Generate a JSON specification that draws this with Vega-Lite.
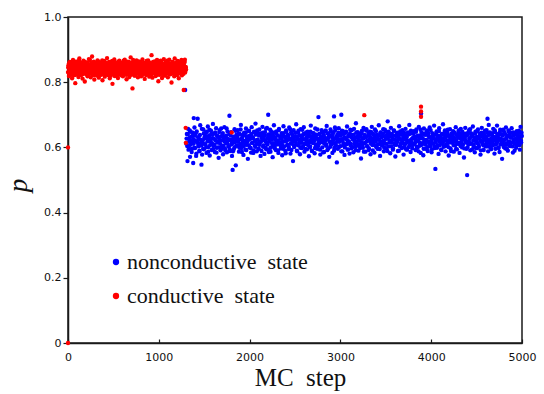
{
"$schema": "https://vega.github.io/schema/vega-lite/v6.json",
"width": 454, "height": 326,
"autosize": "none",
"padding": {"left": 68, "top": 17, "right": 22, "bottom": 51},
"background": "white",
"config": {"font": "Times New Roman", "view": {"stroke": "#1a1a1a", "strokeWidth": 1.5}, "axis": {"labelFont": "DejaVu Sans"}},
"data": {"values": [
{"t":1302,"p":0.612,"s":"n"},{"t":1309,"p":0.641,"s":"n"},{"t":1316,"p":0.558,"s":"n"},{"t":1323,"p":0.657,"s":"n"},{"t":1330,"p":0.603,"s":"n"},{"t":1337,"p":0.629,"s":"n"},{"t":1344,"p":0.571,"s":"n"},{"t":1351,"p":0.648,"s":"n"},{"t":1358,"p":0.619,"s":"n"},{"t":1365,"p":0.596,"s":"n"},
{"t":1372,"p":0.635,"s":"n"},{"t":1379,"p":0.552,"s":"n"},{"t":1386,"p":0.624,"s":"n"},{"t":1393,"p":0.661,"s":"n"},{"t":1400,"p":0.598,"s":"n"},{"t":1407,"p":0.643,"s":"n"},{"t":1414,"p":0.581,"s":"n"},{"t":1421,"p":0.617,"s":"n"},{"t":1428,"p":0.688,"s":"n"},{"t":1435,"p":0.607,"s":"n"},
{"t":1442,"p":0.626,"s":"n"},{"t":1449,"p":0.589,"s":"n"},{"t":1456,"p":0.668,"s":"n"},{"t":1463,"p":0.614,"s":"n"},{"t":1470,"p":0.547,"s":"n"},{"t":1477,"p":0.578,"s":"n"},{"t":1484,"p":0.621,"s":"n"},{"t":1491,"p":0.655,"s":"n"},{"t":1498,"p":0.594,"s":"n"},{"t":1505,"p":0.632,"s":"n"},
{"t":1512,"p":0.609,"s":"n"},{"t":1519,"p":0.646,"s":"n"},{"t":1526,"p":0.583,"s":"n"},{"t":1533,"p":0.627,"s":"n"},{"t":1540,"p":0.664,"s":"n"},{"t":1547,"p":0.601,"s":"n"},{"t":1554,"p":0.637,"s":"n"},{"t":1561,"p":0.575,"s":"n"},{"t":1568,"p":0.618,"s":"n"},{"t":1575,"p":0.651,"s":"n"},
{"t":1582,"p":0.592,"s":"n"},{"t":1589,"p":0.628,"s":"n"},{"t":1596,"p":0.672,"s":"n"},{"t":1603,"p":0.606,"s":"n"},{"t":1610,"p":0.643,"s":"n"},{"t":1617,"p":0.586,"s":"n"},{"t":1624,"p":0.623,"s":"n"},{"t":1631,"p":0.659,"s":"n"},{"t":1638,"p":0.599,"s":"n"},{"t":1645,"p":0.634,"s":"n"},
{"t":1652,"p":0.615,"s":"n"},{"t":1659,"p":0.568,"s":"n"},{"t":1666,"p":0.647,"s":"n"},{"t":1673,"p":0.621,"s":"n"},{"t":1680,"p":0.591,"s":"n"},{"t":1687,"p":0.658,"s":"n"},{"t":1694,"p":0.604,"s":"n"},{"t":1701,"p":0.638,"s":"n"},{"t":1708,"p":0.579,"s":"n"},{"t":1715,"p":0.625,"s":"n"},
{"t":1722,"p":0.662,"s":"n"},{"t":1729,"p":0.597,"s":"n"},{"t":1736,"p":0.631,"s":"n"},{"t":1743,"p":0.613,"s":"n"},{"t":1750,"p":0.585,"s":"n"},{"t":1757,"p":0.649,"s":"n"},{"t":1764,"p":0.622,"s":"n"},{"t":1771,"p":0.603,"s":"n"},{"t":1778,"p":0.697,"s":"n"},{"t":1785,"p":0.589,"s":"n"},
{"t":1792,"p":0.636,"s":"n"},{"t":1799,"p":0.611,"s":"n"},{"t":1806,"p":0.574,"s":"n"},{"t":1813,"p":0.531,"s":"n"},{"t":1820,"p":0.627,"s":"n"},{"t":1827,"p":0.595,"s":"n"},{"t":1834,"p":0.656,"s":"n"},{"t":1841,"p":0.618,"s":"n"},{"t":1848,"p":0.545,"s":"n"},{"t":1855,"p":0.639,"s":"n"},
{"t":1862,"p":0.605,"s":"n"},{"t":1869,"p":0.653,"s":"n"},{"t":1876,"p":0.624,"s":"n"},{"t":1883,"p":0.587,"s":"n"},{"t":1890,"p":0.641,"s":"n"},{"t":1897,"p":0.61,"s":"n"},{"t":1904,"p":0.669,"s":"n"},{"t":1911,"p":0.598,"s":"n"},{"t":1918,"p":0.63,"s":"n"},{"t":1925,"p":0.616,"s":"n"},
{"t":1932,"p":0.577,"s":"n"},{"t":1939,"p":0.645,"s":"n"},{"t":1946,"p":0.62,"s":"n"},{"t":1953,"p":0.593,"s":"n"},{"t":1960,"p":0.658,"s":"n"},{"t":1967,"p":0.608,"s":"n"},{"t":1974,"p":0.634,"s":"n"},{"t":1981,"p":0.565,"s":"n"},{"t":1988,"p":0.626,"s":"n"},{"t":1995,"p":0.651,"s":"n"},
{"t":2002,"p":0.6,"s":"n"},{"t":2009,"p":0.637,"s":"n"},{"t":2016,"p":0.584,"s":"n"},{"t":2023,"p":0.662,"s":"n"},{"t":2030,"p":0.614,"s":"n"},{"t":2037,"p":0.629,"s":"n"},{"t":2044,"p":0.591,"s":"n"},{"t":2051,"p":0.648,"s":"n"},{"t":2058,"p":0.606,"s":"n"},{"t":2065,"p":0.673,"s":"n"},
{"t":2072,"p":0.622,"s":"n"},{"t":2079,"p":0.588,"s":"n"},{"t":2086,"p":0.643,"s":"n"},{"t":2093,"p":0.611,"s":"n"},{"t":2100,"p":0.596,"s":"n"},{"t":2107,"p":0.655,"s":"n"},{"t":2114,"p":0.617,"s":"n"},{"t":2121,"p":0.574,"s":"n"},{"t":2128,"p":0.639,"s":"n"},{"t":2135,"p":0.628,"s":"n"},
{"t":2142,"p":0.663,"s":"n"},{"t":2149,"p":0.602,"s":"n"},{"t":2156,"p":0.632,"s":"n"},{"t":2163,"p":0.58,"s":"n"},{"t":2170,"p":0.647,"s":"n"},{"t":2177,"p":0.619,"s":"n"},{"t":2184,"p":0.594,"s":"n"},{"t":2191,"p":0.66,"s":"n"},{"t":2198,"p":0.609,"s":"n"},{"t":2205,"p":0.636,"s":"n"},
{"t":2212,"p":0.586,"s":"n"},{"t":2219,"p":0.625,"s":"n"},{"t":2226,"p":0.654,"s":"n"},{"t":2233,"p":0.599,"s":"n"},{"t":2240,"p":0.641,"s":"n"},{"t":2247,"p":0.613,"s":"n"},{"t":2254,"p":0.57,"s":"n"},{"t":2261,"p":0.631,"s":"n"},{"t":2268,"p":0.668,"s":"n"},{"t":2275,"p":0.604,"s":"n"},
{"t":2282,"p":0.623,"s":"n"},{"t":2289,"p":0.592,"s":"n"},{"t":2296,"p":0.649,"s":"n"},{"t":2303,"p":0.615,"s":"n"},{"t":2310,"p":0.637,"s":"n"},{"t":2317,"p":0.583,"s":"n"},{"t":2324,"p":0.657,"s":"n"},{"t":2331,"p":0.61,"s":"n"},{"t":2338,"p":0.627,"s":"n"},{"t":2345,"p":0.597,"s":"n"},
{"t":2352,"p":0.644,"s":"n"},{"t":2359,"p":0.576,"s":"n"},{"t":2366,"p":0.618,"s":"n"},{"t":2373,"p":0.665,"s":"n"},{"t":2380,"p":0.603,"s":"n"},{"t":2387,"p":0.633,"s":"n"},{"t":2394,"p":0.589,"s":"n"},{"t":2401,"p":0.652,"s":"n"},{"t":2408,"p":0.62,"s":"n"},{"t":2415,"p":0.608,"s":"n"},
{"t":2422,"p":0.638,"s":"n"},{"t":2429,"p":0.595,"s":"n"},{"t":2436,"p":0.661,"s":"n"},{"t":2443,"p":0.624,"s":"n"},{"t":2450,"p":0.581,"s":"n"},{"t":2457,"p":0.646,"s":"n"},{"t":2464,"p":0.612,"s":"n"},{"t":2471,"p":0.629,"s":"n"},{"t":2478,"p":0.558,"s":"n"},{"t":2485,"p":0.653,"s":"n"},
{"t":2492,"p":0.601,"s":"n"},{"t":2499,"p":0.634,"s":"n"},{"t":2506,"p":0.618,"s":"n"},{"t":2513,"p":0.671,"s":"n"},{"t":2520,"p":0.59,"s":"n"},{"t":2527,"p":0.627,"s":"n"},{"t":2534,"p":0.645,"s":"n"},{"t":2541,"p":0.606,"s":"n"},{"t":2548,"p":0.623,"s":"n"},{"t":2555,"p":0.579,"s":"n"},
{"t":2562,"p":0.656,"s":"n"},{"t":2569,"p":0.614,"s":"n"},{"t":2576,"p":0.598,"s":"n"},{"t":2583,"p":0.637,"s":"n"},{"t":2590,"p":0.625,"s":"n"},{"t":2597,"p":0.662,"s":"n"},{"t":2604,"p":0.587,"s":"n"},{"t":2611,"p":0.642,"s":"n"},{"t":2618,"p":0.611,"s":"n"},{"t":2625,"p":0.63,"s":"n"},
{"t":2632,"p":0.594,"s":"n"},{"t":2639,"p":0.648,"s":"n"},{"t":2646,"p":0.619,"s":"n"},{"t":2653,"p":0.573,"s":"n"},{"t":2660,"p":0.635,"s":"n"},{"t":2667,"p":0.603,"s":"n"},{"t":2674,"p":0.667,"s":"n"},{"t":2681,"p":0.621,"s":"n"},{"t":2688,"p":0.589,"s":"n"},{"t":2695,"p":0.644,"s":"n"},
{"t":2702,"p":0.616,"s":"n"},{"t":2709,"p":0.631,"s":"n"},{"t":2716,"p":0.582,"s":"n"},{"t":2723,"p":0.658,"s":"n"},{"t":2730,"p":0.607,"s":"n"},{"t":2737,"p":0.639,"s":"n"},{"t":2744,"p":0.596,"s":"n"},{"t":2751,"p":0.626,"s":"n"},{"t":2758,"p":0.693,"s":"n"},{"t":2765,"p":0.612,"s":"n"},
{"t":2772,"p":0.641,"s":"n"},{"t":2779,"p":0.578,"s":"n"},{"t":2786,"p":0.624,"s":"n"},{"t":2793,"p":0.653,"s":"n"},{"t":2800,"p":0.6,"s":"n"},{"t":2807,"p":0.633,"s":"n"},{"t":2814,"p":0.615,"s":"n"},{"t":2821,"p":0.586,"s":"n"},{"t":2828,"p":0.649,"s":"n"},{"t":2835,"p":0.62,"s":"n"},
{"t":2842,"p":0.605,"s":"n"},{"t":2849,"p":0.666,"s":"n"},{"t":2856,"p":0.592,"s":"n"},{"t":2863,"p":0.628,"s":"n"},{"t":2870,"p":0.643,"s":"n"},{"t":2877,"p":0.571,"s":"n"},{"t":2884,"p":0.617,"s":"n"},{"t":2891,"p":0.655,"s":"n"},{"t":2898,"p":0.609,"s":"n"},{"t":2905,"p":0.636,"s":"n"},
{"t":2912,"p":0.583,"s":"n"},{"t":2919,"p":0.622,"s":"n"},{"t":2926,"p":0.647,"s":"n"},{"t":2933,"p":0.598,"s":"n"},{"t":2940,"p":0.661,"s":"n"},{"t":2947,"p":0.613,"s":"n"},{"t":2954,"p":0.63,"s":"n"},{"t":2961,"p":0.554,"s":"n"},{"t":2968,"p":0.64,"s":"n"},{"t":2975,"p":0.625,"s":"n"},
{"t":2982,"p":0.659,"s":"n"},{"t":2989,"p":0.602,"s":"n"},{"t":2996,"p":0.619,"s":"n"},{"t":3003,"p":0.637,"s":"n"},{"t":3010,"p":0.588,"s":"n"},{"t":3017,"p":0.651,"s":"n"},{"t":3024,"p":0.623,"s":"n"},{"t":3031,"p":0.606,"s":"n"},{"t":3038,"p":0.642,"s":"n"},{"t":3045,"p":0.577,"s":"n"},
{"t":3052,"p":0.628,"s":"n"},{"t":3059,"p":0.645,"s":"n"},{"t":3066,"p":0.61,"s":"n"},{"t":3073,"p":0.664,"s":"n"},{"t":3080,"p":0.593,"s":"n"},{"t":3087,"p":0.634,"s":"n"},{"t":3094,"p":0.618,"s":"n"},{"t":3101,"p":0.581,"s":"n"},{"t":3108,"p":0.654,"s":"n"},{"t":3115,"p":0.611,"s":"n"},
{"t":3122,"p":0.597,"s":"n"},{"t":3129,"p":0.638,"s":"n"},{"t":3136,"p":0.626,"s":"n"},{"t":3143,"p":0.585,"s":"n"},{"t":3150,"p":0.657,"s":"n"},{"t":3157,"p":0.62,"s":"n"},{"t":3164,"p":0.603,"s":"n"},{"t":3171,"p":0.674,"s":"n"},{"t":3178,"p":0.614,"s":"n"},{"t":3185,"p":0.632,"s":"n"},
{"t":3192,"p":0.647,"s":"n"},{"t":3199,"p":0.59,"s":"n"},{"t":3206,"p":0.621,"s":"n"},{"t":3213,"p":0.608,"s":"n"},{"t":3220,"p":0.639,"s":"n"},{"t":3227,"p":0.566,"s":"n"},{"t":3234,"p":0.644,"s":"n"},{"t":3241,"p":0.627,"s":"n"},{"t":3248,"p":0.599,"s":"n"},{"t":3255,"p":0.66,"s":"n"},
{"t":3262,"p":0.613,"s":"n"},{"t":3269,"p":0.633,"s":"n"},{"t":3276,"p":0.587,"s":"n"},{"t":3283,"p":0.652,"s":"n"},{"t":3290,"p":0.618,"s":"n"},{"t":3297,"p":0.604,"s":"n"},{"t":3304,"p":0.636,"s":"n"},{"t":3311,"p":0.592,"s":"n"},{"t":3318,"p":0.625,"s":"n"},{"t":3325,"p":0.648,"s":"n"},
{"t":3332,"p":0.579,"s":"n"},{"t":3339,"p":0.629,"s":"n"},{"t":3346,"p":0.663,"s":"n"},{"t":3353,"p":0.607,"s":"n"},{"t":3360,"p":0.641,"s":"n"},{"t":3367,"p":0.616,"s":"n"},{"t":3374,"p":0.584,"s":"n"},{"t":3381,"p":0.655,"s":"n"},{"t":3388,"p":0.622,"s":"n"},{"t":3395,"p":0.601,"s":"n"},
{"t":3402,"p":0.639,"s":"n"},{"t":3409,"p":0.596,"s":"n"},{"t":3416,"p":0.624,"s":"n"},{"t":3423,"p":0.668,"s":"n"},{"t":3430,"p":0.61,"s":"n"},{"t":3437,"p":0.574,"s":"n"},{"t":3444,"p":0.646,"s":"n"},{"t":3451,"p":0.631,"s":"n"},{"t":3458,"p":0.606,"s":"n"},{"t":3465,"p":0.619,"s":"n"},
{"t":3472,"p":0.656,"s":"n"},{"t":3479,"p":0.588,"s":"n"},{"t":3486,"p":0.634,"s":"n"},{"t":3493,"p":0.612,"s":"n"},{"t":3500,"p":0.649,"s":"n"},{"t":3507,"p":0.597,"s":"n"},{"t":3514,"p":0.627,"s":"n"},{"t":3521,"p":0.68,"s":"n"},{"t":3528,"p":0.603,"s":"n"},{"t":3535,"p":0.642,"s":"n"},
{"t":3542,"p":0.621,"s":"n"},{"t":3549,"p":0.582,"s":"n"},{"t":3556,"p":0.66,"s":"n"},{"t":3563,"p":0.615,"s":"n"},{"t":3570,"p":0.637,"s":"n"},{"t":3577,"p":0.593,"s":"n"},{"t":3584,"p":0.624,"s":"n"},{"t":3591,"p":0.651,"s":"n"},{"t":3598,"p":0.608,"s":"n"},{"t":3605,"p":0.572,"s":"n"},
{"t":3612,"p":0.635,"s":"n"},{"t":3619,"p":0.617,"s":"n"},{"t":3626,"p":0.645,"s":"n"},{"t":3633,"p":0.589,"s":"n"},{"t":3640,"p":0.628,"s":"n"},{"t":3647,"p":0.665,"s":"n"},{"t":3654,"p":0.604,"s":"n"},{"t":3661,"p":0.64,"s":"n"},{"t":3668,"p":0.613,"s":"n"},{"t":3675,"p":0.598,"s":"n"},
{"t":3682,"p":0.653,"s":"n"},{"t":3689,"p":0.625,"s":"n"},{"t":3696,"p":0.578,"s":"n"},{"t":3703,"p":0.638,"s":"n"},{"t":3710,"p":0.609,"s":"n"},{"t":3717,"p":0.657,"s":"n"},{"t":3724,"p":0.594,"s":"n"},{"t":3731,"p":0.632,"s":"n"},{"t":3738,"p":0.62,"s":"n"},{"t":3745,"p":0.646,"s":"n"},
{"t":3752,"p":0.601,"s":"n"},{"t":3759,"p":0.669,"s":"n"},{"t":3766,"p":0.615,"s":"n"},{"t":3773,"p":0.586,"s":"n"},{"t":3780,"p":0.643,"s":"n"},{"t":3787,"p":0.626,"s":"n"},{"t":3794,"p":0.607,"s":"n"},{"t":3801,"p":0.561,"s":"n"},{"t":3808,"p":0.65,"s":"n"},{"t":3815,"p":0.629,"s":"n"},
{"t":3822,"p":0.614,"s":"n"},{"t":3829,"p":0.592,"s":"n"},{"t":3836,"p":0.655,"s":"n"},{"t":3843,"p":0.634,"s":"n"},{"t":3850,"p":0.599,"s":"n"},{"t":3857,"p":0.621,"s":"n"},{"t":3864,"p":0.663,"s":"n"},{"t":3871,"p":0.605,"s":"n"},{"t":3878,"p":0.637,"s":"n"},{"t":3885,"p":0.583,"s":"n"},
{"t":3892,"p":0.647,"s":"n"},{"t":3899,"p":0.61,"s":"n"},{"t":3906,"p":0.627,"s":"n"},{"t":3913,"p":0.576,"s":"n"},{"t":3920,"p":0.658,"s":"n"},{"t":3927,"p":0.618,"s":"n"},{"t":3934,"p":0.639,"s":"n"},{"t":3941,"p":0.596,"s":"n"},{"t":3948,"p":0.623,"s":"n"},{"t":3955,"p":0.652,"s":"n"},
{"t":3962,"p":0.589,"s":"n"},{"t":3969,"p":0.636,"s":"n"},{"t":3976,"p":0.614,"s":"n"},{"t":3983,"p":0.661,"s":"n"},{"t":3990,"p":0.603,"s":"n"},{"t":3997,"p":0.631,"s":"n"},{"t":4004,"p":0.585,"s":"n"},{"t":4011,"p":0.644,"s":"n"},{"t":4018,"p":0.612,"s":"n"},{"t":4025,"p":0.628,"s":"n"},
{"t":4032,"p":0.667,"s":"n"},{"t":4039,"p":0.598,"s":"n"},{"t":4046,"p":0.534,"s":"n"},{"t":4053,"p":0.622,"s":"n"},{"t":4060,"p":0.649,"s":"n"},{"t":4067,"p":0.607,"s":"n"},{"t":4074,"p":0.635,"s":"n"},{"t":4081,"p":0.58,"s":"n"},{"t":4088,"p":0.659,"s":"n"},{"t":4095,"p":0.617,"s":"n"},
{"t":4102,"p":0.626,"s":"n"},{"t":4109,"p":0.593,"s":"n"},{"t":4116,"p":0.641,"s":"n"},{"t":4123,"p":0.611,"s":"n"},{"t":4130,"p":0.671,"s":"n"},{"t":4137,"p":0.602,"s":"n"},{"t":4144,"p":0.629,"s":"n"},{"t":4151,"p":0.652,"s":"n"},{"t":4158,"p":0.588,"s":"n"},{"t":4165,"p":0.637,"s":"n"},
{"t":4172,"p":0.608,"s":"n"},{"t":4179,"p":0.645,"s":"n"},{"t":4186,"p":0.619,"s":"n"},{"t":4193,"p":0.575,"s":"n"},{"t":4200,"p":0.633,"s":"n"},{"t":4207,"p":0.656,"s":"n"},{"t":4214,"p":0.597,"s":"n"},{"t":4221,"p":0.624,"s":"n"},{"t":4228,"p":0.64,"s":"n"},{"t":4235,"p":0.614,"s":"n"},
{"t":4242,"p":0.65,"s":"n"},{"t":4249,"p":0.587,"s":"n"},{"t":4256,"p":0.628,"s":"n"},{"t":4263,"p":0.606,"s":"n"},{"t":4270,"p":0.662,"s":"n"},{"t":4277,"p":0.621,"s":"n"},{"t":4284,"p":0.594,"s":"n"},{"t":4291,"p":0.638,"s":"n"},{"t":4298,"p":0.611,"s":"n"},{"t":4305,"p":0.646,"s":"n"},
{"t":4312,"p":0.583,"s":"n"},{"t":4319,"p":0.634,"s":"n"},{"t":4326,"p":0.657,"s":"n"},{"t":4333,"p":0.615,"s":"n"},{"t":4340,"p":0.6,"s":"n"},{"t":4347,"p":0.642,"s":"n"},{"t":4354,"p":0.625,"s":"n"},{"t":4361,"p":0.569,"s":"n"},{"t":4368,"p":0.631,"s":"n"},{"t":4375,"p":0.66,"s":"n"},
{"t":4382,"p":0.618,"s":"n"},{"t":4389,"p":0.596,"s":"n"},{"t":4396,"p":0.515,"s":"n"},{"t":4403,"p":0.639,"s":"n"},{"t":4410,"p":0.609,"s":"n"},{"t":4417,"p":0.653,"s":"n"},{"t":4424,"p":0.627,"s":"n"},{"t":4431,"p":0.591,"s":"n"},{"t":4438,"p":0.644,"s":"n"},{"t":4445,"p":0.612,"s":"n"},
{"t":4452,"p":0.636,"s":"n"},{"t":4459,"p":0.664,"s":"n"},{"t":4466,"p":0.601,"s":"n"},{"t":4473,"p":0.624,"s":"n"},{"t":4480,"p":0.585,"s":"n"},{"t":4487,"p":0.648,"s":"n"},{"t":4494,"p":0.617,"s":"n"},{"t":4501,"p":0.632,"s":"n"},{"t":4508,"p":0.598,"s":"n"},{"t":4515,"p":0.655,"s":"n"},
{"t":4522,"p":0.607,"s":"n"},{"t":4529,"p":0.629,"s":"n"},{"t":4536,"p":0.643,"s":"n"},{"t":4543,"p":0.578,"s":"n"},{"t":4550,"p":0.621,"s":"n"},{"t":4557,"p":0.66,"s":"n"},{"t":4564,"p":0.611,"s":"n"},{"t":4571,"p":0.637,"s":"n"},{"t":4578,"p":0.592,"s":"n"},{"t":4585,"p":0.626,"s":"n"},
{"t":4592,"p":0.651,"s":"n"},{"t":4599,"p":0.603,"s":"n"},{"t":4606,"p":0.633,"s":"n"},{"t":4613,"p":0.616,"s":"n"},{"t":4620,"p":0.645,"s":"n"},{"t":4627,"p":0.588,"s":"n"},{"t":4634,"p":0.669,"s":"n"},{"t":4641,"p":0.622,"s":"n"},{"t":4648,"p":0.605,"s":"n"},{"t":4655,"p":0.64,"s":"n"},
{"t":4662,"p":0.595,"s":"n"},{"t":4669,"p":0.638,"s":"n"},{"t":4676,"p":0.614,"s":"n"},{"t":4683,"p":0.657,"s":"n"},{"t":4690,"p":0.624,"s":"n"},{"t":4697,"p":0.581,"s":"n"},{"t":4704,"p":0.647,"s":"n"},{"t":4711,"p":0.609,"s":"n"},{"t":4718,"p":0.632,"s":"n"},{"t":4725,"p":0.667,"s":"n"},
{"t":4732,"p":0.619,"s":"n"},{"t":4739,"p":0.6,"s":"n"},{"t":4746,"p":0.642,"s":"n"},{"t":4753,"p":0.586,"s":"n"},{"t":4760,"p":0.654,"s":"n"},{"t":4767,"p":0.627,"s":"n"},{"t":4774,"p":0.613,"s":"n"},{"t":4781,"p":0.565,"s":"n"},{"t":4788,"p":0.636,"s":"n"},{"t":4795,"p":0.61,"s":"n"},
{"t":4802,"p":0.648,"s":"n"},{"t":4809,"p":0.623,"s":"n"},{"t":4816,"p":0.597,"s":"n"},{"t":4823,"p":0.661,"s":"n"},{"t":4830,"p":0.608,"s":"n"},{"t":4837,"p":0.634,"s":"n"},{"t":4844,"p":0.59,"s":"n"},{"t":4851,"p":0.652,"s":"n"},{"t":4858,"p":0.618,"s":"n"},{"t":4865,"p":0.643,"s":"n"},
{"t":4872,"p":0.604,"s":"n"},{"t":4879,"p":0.63,"s":"n"},{"t":4886,"p":0.659,"s":"n"},{"t":4893,"p":0.616,"s":"n"},{"t":4900,"p":0.584,"s":"n"},{"t":4907,"p":0.646,"s":"n"},{"t":4914,"p":0.625,"s":"n"},{"t":4921,"p":0.611,"s":"n"},{"t":4928,"p":0.639,"s":"n"},{"t":4935,"p":0.599,"s":"n"},
{"t":4942,"p":0.65,"s":"n"},{"t":4949,"p":0.621,"s":"n"},{"t":4956,"p":0.607,"s":"n"},{"t":4963,"p":0.644,"s":"n"},{"t":4970,"p":0.628,"s":"n"},{"t":4977,"p":0.593,"s":"n"},{"t":4984,"p":0.663,"s":"n"},{"t":4991,"p":0.615,"s":"n"},{"t":4998,"p":0.635,"s":"n"},
{"t":1306,"p":0.627,"s":"n"},{"t":1313,"p":0.604,"s":"n"},{"t":1320,"p":0.641,"s":"n"},{"t":1327,"p":0.593,"s":"n"},{"t":1334,"p":0.618,"s":"n"},{"t":1341,"p":0.652,"s":"n"},{"t":1348,"p":0.609,"s":"n"},{"t":1355,"p":0.633,"s":"n"},{"t":1362,"p":0.586,"s":"n"},{"t":1369,"p":0.622,"s":"n"},
{"t":1376,"p":0.645,"s":"n"},{"t":1383,"p":0.611,"s":"n"},{"t":1390,"p":0.598,"s":"n"},{"t":1397,"p":0.636,"s":"n"},{"t":1404,"p":0.62,"s":"n"},{"t":1411,"p":0.574,"s":"n"},{"t":1418,"p":0.649,"s":"n"},{"t":1425,"p":0.615,"s":"n"},{"t":1432,"p":0.631,"s":"n"},{"t":1439,"p":0.603,"s":"n"},
{"t":1446,"p":0.589,"s":"n"},{"t":1453,"p":0.638,"s":"n"},{"t":1460,"p":0.624,"s":"n"},{"t":1467,"p":0.606,"s":"n"},{"t":1474,"p":0.657,"s":"n"},{"t":1481,"p":0.614,"s":"n"},{"t":1488,"p":0.596,"s":"n"},{"t":1495,"p":0.643,"s":"n"},{"t":1502,"p":0.628,"s":"n"},{"t":1509,"p":0.61,"s":"n"},
{"t":1516,"p":0.635,"s":"n"},{"t":1523,"p":0.601,"s":"n"},{"t":1530,"p":0.648,"s":"n"},{"t":1537,"p":0.619,"s":"n"},{"t":1544,"p":0.587,"s":"n"},{"t":1551,"p":0.632,"s":"n"},{"t":1558,"p":0.654,"s":"n"},{"t":1565,"p":0.607,"s":"n"},{"t":1572,"p":0.625,"s":"n"},{"t":1579,"p":0.641,"s":"n"},
{"t":1586,"p":0.613,"s":"n"},{"t":1593,"p":0.639,"s":"n"},{"t":1600,"p":0.595,"s":"n"},{"t":1607,"p":0.627,"s":"n"},{"t":1614,"p":0.608,"s":"n"},{"t":1621,"p":0.646,"s":"n"},{"t":1628,"p":0.621,"s":"n"},{"t":1635,"p":0.584,"s":"n"},{"t":1642,"p":0.637,"s":"n"},{"t":1649,"p":0.616,"s":"n"},
{"t":1656,"p":0.6,"s":"n"},{"t":1663,"p":0.629,"s":"n"},{"t":1670,"p":0.653,"s":"n"},{"t":1677,"p":0.611,"s":"n"},{"t":1684,"p":0.634,"s":"n"},{"t":1691,"p":0.597,"s":"n"},{"t":1698,"p":0.622,"s":"n"},{"t":1705,"p":0.644,"s":"n"},{"t":1712,"p":0.605,"s":"n"},{"t":1719,"p":0.63,"s":"n"},
{"t":1726,"p":0.618,"s":"n"},{"t":1733,"p":0.591,"s":"n"},{"t":1740,"p":0.636,"s":"n"},{"t":1747,"p":0.658,"s":"n"},{"t":1754,"p":0.612,"s":"n"},{"t":1761,"p":0.626,"s":"n"},{"t":1768,"p":0.603,"s":"n"},{"t":1775,"p":0.64,"s":"n"},{"t":1782,"p":0.594,"s":"n"},{"t":1789,"p":0.623,"s":"n"},
{"t":1796,"p":0.647,"s":"n"},{"t":1803,"p":0.609,"s":"n"},{"t":1810,"p":0.62,"s":"n"},{"t":1817,"p":0.588,"s":"n"},{"t":1824,"p":0.633,"s":"n"},{"t":1831,"p":0.615,"s":"n"},{"t":1838,"p":0.601,"s":"n"},{"t":1845,"p":0.651,"s":"n"},{"t":1852,"p":0.628,"s":"n"},{"t":1859,"p":0.606,"s":"n"},
{"t":1866,"p":0.632,"s":"n"},{"t":1873,"p":0.617,"s":"n"},{"t":1880,"p":0.642,"s":"n"},{"t":1887,"p":0.599,"s":"n"},{"t":1894,"p":0.624,"s":"n"},{"t":1901,"p":0.655,"s":"n"},{"t":1908,"p":0.61,"s":"n"},{"t":1915,"p":0.586,"s":"n"},{"t":1922,"p":0.638,"s":"n"},{"t":1929,"p":0.621,"s":"n"},
{"t":1936,"p":0.604,"s":"n"},{"t":1943,"p":0.637,"s":"n"},{"t":1950,"p":0.613,"s":"n"},{"t":1957,"p":0.645,"s":"n"},{"t":1964,"p":0.592,"s":"n"},{"t":1971,"p":0.629,"s":"n"},{"t":1978,"p":0.619,"s":"n"},{"t":1985,"p":0.65,"s":"n"},{"t":1992,"p":0.607,"s":"n"},{"t":1999,"p":0.635,"s":"n"},
{"t":2006,"p":0.626,"s":"n"},{"t":2013,"p":0.598,"s":"n"},{"t":2020,"p":0.641,"s":"n"},{"t":2027,"p":0.614,"s":"n"},{"t":2034,"p":0.631,"s":"n"},{"t":2041,"p":0.583,"s":"n"},{"t":2048,"p":0.647,"s":"n"},{"t":2055,"p":0.62,"s":"n"},{"t":2062,"p":0.602,"s":"n"},{"t":2069,"p":0.639,"s":"n"},
{"t":2076,"p":0.611,"s":"n"},{"t":2083,"p":0.652,"s":"n"},{"t":2090,"p":0.624,"s":"n"},{"t":2097,"p":0.596,"s":"n"},{"t":2104,"p":0.636,"s":"n"},{"t":2111,"p":0.608,"s":"n"},{"t":2118,"p":0.643,"s":"n"},{"t":2125,"p":0.617,"s":"n"},{"t":2132,"p":0.589,"s":"n"},{"t":2139,"p":0.63,"s":"n"},
{"t":2146,"p":0.645,"s":"n"},{"t":2153,"p":0.606,"s":"n"},{"t":2160,"p":0.622,"s":"n"},{"t":2167,"p":0.638,"s":"n"},{"t":2174,"p":0.599,"s":"n"},{"t":2181,"p":0.657,"s":"n"},{"t":2188,"p":0.613,"s":"n"},{"t":2195,"p":0.628,"s":"n"},{"t":2202,"p":0.594,"s":"n"},{"t":2209,"p":0.64,"s":"n"},
{"t":2216,"p":0.618,"s":"n"},{"t":2223,"p":0.633,"s":"n"},{"t":2230,"p":0.587,"s":"n"},{"t":2237,"p":0.649,"s":"n"},{"t":2244,"p":0.625,"s":"n"},{"t":2251,"p":0.603,"s":"n"},{"t":2258,"p":0.636,"s":"n"},{"t":2265,"p":0.612,"s":"n"},{"t":2272,"p":0.646,"s":"n"},{"t":2279,"p":0.597,"s":"n"},
{"t":2286,"p":0.629,"s":"n"},{"t":2293,"p":0.642,"s":"n"},{"t":2300,"p":0.609,"s":"n"},{"t":2307,"p":0.621,"s":"n"},{"t":2314,"p":0.591,"s":"n"},{"t":2321,"p":0.653,"s":"n"},{"t":2328,"p":0.616,"s":"n"},{"t":2335,"p":0.634,"s":"n"},{"t":2342,"p":0.604,"s":"n"},{"t":2349,"p":0.627,"s":"n"},
{"t":2356,"p":0.61,"s":"n"},{"t":2363,"p":0.638,"s":"n"},{"t":2370,"p":0.596,"s":"n"},{"t":2377,"p":0.644,"s":"n"},{"t":2384,"p":0.619,"s":"n"},{"t":2391,"p":0.631,"s":"n"},{"t":2398,"p":0.582,"s":"n"},{"t":2405,"p":0.648,"s":"n"},{"t":2412,"p":0.623,"s":"n"},{"t":2419,"p":0.606,"s":"n"},
{"t":2426,"p":0.635,"s":"n"},{"t":2433,"p":0.601,"s":"n"},{"t":2440,"p":0.627,"s":"n"},{"t":2447,"p":0.656,"s":"n"},{"t":2454,"p":0.612,"s":"n"},{"t":2461,"p":0.592,"s":"n"},{"t":2468,"p":0.64,"s":"n"},{"t":2475,"p":0.618,"s":"n"},{"t":2482,"p":0.63,"s":"n"},{"t":2489,"p":0.605,"s":"n"},
{"t":2496,"p":0.622,"s":"n"},{"t":2503,"p":0.645,"s":"n"},{"t":2510,"p":0.608,"s":"n"},{"t":2517,"p":0.633,"s":"n"},{"t":2524,"p":0.588,"s":"n"},{"t":2531,"p":0.626,"s":"n"},{"t":2538,"p":0.651,"s":"n"},{"t":2545,"p":0.614,"s":"n"},{"t":2552,"p":0.637,"s":"n"},{"t":2559,"p":0.599,"s":"n"},
{"t":2566,"p":0.617,"s":"n"},{"t":2573,"p":0.629,"s":"n"},{"t":2580,"p":0.654,"s":"n"},{"t":2587,"p":0.603,"s":"n"},{"t":2594,"p":0.641,"s":"n"},{"t":2601,"p":0.611,"s":"n"},{"t":2608,"p":0.624,"s":"n"},{"t":2615,"p":0.595,"s":"n"},{"t":2622,"p":0.646,"s":"n"},{"t":2629,"p":0.62,"s":"n"},
{"t":2636,"p":0.632,"s":"n"},{"t":2643,"p":0.607,"s":"n"},{"t":2650,"p":0.639,"s":"n"},{"t":2657,"p":0.615,"s":"n"},{"t":2664,"p":0.6,"s":"n"},{"t":2671,"p":0.648,"s":"n"},{"t":2678,"p":0.625,"s":"n"},{"t":2685,"p":0.59,"s":"n"},{"t":2692,"p":0.634,"s":"n"},{"t":2699,"p":0.613,"s":"n"},
{"t":2706,"p":0.644,"s":"n"},{"t":2713,"p":0.621,"s":"n"},{"t":2720,"p":0.598,"s":"n"},{"t":2727,"p":0.637,"s":"n"},{"t":2734,"p":0.609,"s":"n"},{"t":2741,"p":0.628,"s":"n"},{"t":2748,"p":0.655,"s":"n"},{"t":2755,"p":0.604,"s":"n"},{"t":2762,"p":0.619,"s":"n"},{"t":2769,"p":0.641,"s":"n"},
{"t":2776,"p":0.593,"s":"n"},{"t":2783,"p":0.631,"s":"n"},{"t":2790,"p":0.616,"s":"n"},{"t":2797,"p":0.647,"s":"n"},{"t":2804,"p":0.623,"s":"n"},{"t":2811,"p":0.585,"s":"n"},{"t":2818,"p":0.638,"s":"n"},{"t":2825,"p":0.611,"s":"n"},{"t":2832,"p":0.629,"s":"n"},{"t":2839,"p":0.652,"s":"n"},
{"t":2846,"p":0.608,"s":"n"},{"t":2853,"p":0.626,"s":"n"},{"t":2860,"p":0.643,"s":"n"},{"t":2867,"p":0.597,"s":"n"},{"t":2874,"p":0.635,"s":"n"},{"t":2881,"p":0.618,"s":"n"},{"t":2888,"p":0.602,"s":"n"},{"t":2895,"p":0.649,"s":"n"},{"t":2902,"p":0.614,"s":"n"},{"t":2909,"p":0.63,"s":"n"},
{"t":2916,"p":0.639,"s":"n"},{"t":2923,"p":0.612,"s":"n"},{"t":2930,"p":0.59,"s":"n"},{"t":2937,"p":0.627,"s":"n"},{"t":2944,"p":0.653,"s":"n"},{"t":2951,"p":0.606,"s":"n"},{"t":2958,"p":0.633,"s":"n"},{"t":2965,"p":0.62,"s":"n"},{"t":2972,"p":0.596,"s":"n"},{"t":2979,"p":0.645,"s":"n"},
{"t":2986,"p":0.617,"s":"n"},{"t":2993,"p":0.636,"s":"n"},{"t":3000,"p":0.604,"s":"n"},{"t":3007,"p":0.641,"s":"n"},{"t":3014,"p":0.625,"s":"n"},{"t":3021,"p":0.588,"s":"n"},{"t":3028,"p":0.65,"s":"n"},{"t":3035,"p":0.613,"s":"n"},{"t":3042,"p":0.631,"s":"n"},{"t":3049,"p":0.6,"s":"n"},
{"t":3056,"p":0.627,"s":"n"},{"t":3063,"p":0.648,"s":"n"},{"t":3070,"p":0.61,"s":"n"},{"t":3077,"p":0.622,"s":"n"},{"t":3084,"p":0.594,"s":"n"},{"t":3091,"p":0.637,"s":"n"},{"t":3098,"p":0.615,"s":"n"},{"t":3105,"p":0.643,"s":"n"},{"t":3112,"p":0.606,"s":"n"},{"t":3119,"p":0.632,"s":"n"},
{"t":3126,"p":0.653,"s":"n"},{"t":3133,"p":0.601,"s":"n"},{"t":3140,"p":0.624,"s":"n"},{"t":3147,"p":0.639,"s":"n"},{"t":3154,"p":0.611,"s":"n"},{"t":3161,"p":0.629,"s":"n"},{"t":3168,"p":0.592,"s":"n"},{"t":3175,"p":0.646,"s":"n"},{"t":3182,"p":0.618,"s":"n"},{"t":3189,"p":0.635,"s":"n"},
{"t":3196,"p":0.605,"s":"n"},{"t":3203,"p":0.623,"s":"n"},{"t":3210,"p":0.642,"s":"n"},{"t":3217,"p":0.598,"s":"n"},{"t":3224,"p":0.634,"s":"n"},{"t":3231,"p":0.616,"s":"n"},{"t":3238,"p":0.651,"s":"n"},{"t":3245,"p":0.609,"s":"n"},{"t":3252,"p":0.627,"s":"n"},{"t":3259,"p":0.587,"s":"n"},
{"t":3266,"p":0.638,"s":"n"},{"t":3273,"p":0.614,"s":"n"},{"t":3280,"p":0.63,"s":"n"},{"t":3287,"p":0.656,"s":"n"},{"t":3294,"p":0.603,"s":"n"},{"t":3301,"p":0.621,"s":"n"},{"t":3308,"p":0.644,"s":"n"},{"t":3315,"p":0.597,"s":"n"},{"t":3322,"p":0.636,"s":"n"},{"t":3329,"p":0.619,"s":"n"},
{"t":3336,"p":0.612,"s":"n"},{"t":3343,"p":0.647,"s":"n"},{"t":3350,"p":0.625,"s":"n"},{"t":3357,"p":0.591,"s":"n"},{"t":3364,"p":0.64,"s":"n"},{"t":3371,"p":0.607,"s":"n"},{"t":3378,"p":0.632,"s":"n"},{"t":3385,"p":0.618,"s":"n"},{"t":3392,"p":0.65,"s":"n"},{"t":3399,"p":0.602,"s":"n"},
{"t":3406,"p":0.628,"s":"n"},{"t":3413,"p":0.61,"s":"n"},{"t":3420,"p":0.637,"s":"n"},{"t":3427,"p":0.623,"s":"n"},{"t":3434,"p":0.595,"s":"n"},{"t":3441,"p":0.645,"s":"n"},{"t":3448,"p":0.614,"s":"n"},{"t":3455,"p":0.633,"s":"n"},{"t":3462,"p":0.606,"s":"n"},{"t":3469,"p":0.642,"s":"n"},
{"t":3476,"p":0.619,"s":"n"},{"t":3483,"p":0.599,"s":"n"},{"t":3490,"p":0.654,"s":"n"},{"t":3497,"p":0.626,"s":"n"},{"t":3504,"p":0.611,"s":"n"},{"t":3511,"p":0.638,"s":"n"},{"t":3518,"p":0.589,"s":"n"},{"t":3525,"p":0.63,"s":"n"},{"t":3532,"p":0.648,"s":"n"},{"t":3539,"p":0.615,"s":"n"},
{"t":3546,"p":0.634,"s":"n"},{"t":3553,"p":0.62,"s":"n"},{"t":3560,"p":0.603,"s":"n"},{"t":3567,"p":0.641,"s":"n"},{"t":3574,"p":0.628,"s":"n"},{"t":3581,"p":0.596,"s":"n"},{"t":3588,"p":0.652,"s":"n"},{"t":3595,"p":0.612,"s":"n"},{"t":3602,"p":0.624,"s":"n"},{"t":3609,"p":0.637,"s":"n"},
{"t":3616,"p":0.608,"s":"n"},{"t":3623,"p":0.643,"s":"n"},{"t":3630,"p":0.617,"s":"n"},{"t":3637,"p":0.633,"s":"n"},{"t":3644,"p":0.59,"s":"n"},{"t":3651,"p":0.626,"s":"n"},{"t":3658,"p":0.649,"s":"n"},{"t":3665,"p":0.604,"s":"n"},{"t":3672,"p":0.639,"s":"n"},{"t":3679,"p":0.621,"s":"n"},
{"t":3686,"p":0.614,"s":"n"},{"t":3693,"p":0.631,"s":"n"},{"t":3700,"p":0.646,"s":"n"},{"t":3707,"p":0.6,"s":"n"},{"t":3714,"p":0.625,"s":"n"},{"t":3721,"p":0.613,"s":"n"},{"t":3728,"p":0.635,"s":"n"},{"t":3735,"p":0.593,"s":"n"},{"t":3742,"p":0.644,"s":"n"},{"t":3749,"p":0.618,"s":"n"},
{"t":3756,"p":0.64,"s":"n"},{"t":3763,"p":0.606,"s":"n"},{"t":3770,"p":0.622,"s":"n"},{"t":3777,"p":0.651,"s":"n"},{"t":3784,"p":0.615,"s":"n"},{"t":3791,"p":0.597,"s":"n"},{"t":3798,"p":0.629,"s":"n"},{"t":3805,"p":0.642,"s":"n"},{"t":3812,"p":0.61,"s":"n"},{"t":3819,"p":0.633,"s":"n"},
{"t":3826,"p":0.625,"s":"n"},{"t":3833,"p":0.648,"s":"n"},{"t":3840,"p":0.602,"s":"n"},{"t":3847,"p":0.619,"s":"n"},{"t":3854,"p":0.636,"s":"n"},{"t":3861,"p":0.588,"s":"n"},{"t":3868,"p":0.627,"s":"n"},{"t":3875,"p":0.614,"s":"n"},{"t":3882,"p":0.655,"s":"n"},{"t":3889,"p":0.607,"s":"n"},
{"t":3896,"p":0.631,"s":"n"},{"t":3903,"p":0.613,"s":"n"},{"t":3910,"p":0.642,"s":"n"},{"t":3917,"p":0.596,"s":"n"},{"t":3924,"p":0.624,"s":"n"},{"t":3931,"p":0.639,"s":"n"},{"t":3938,"p":0.609,"s":"n"},{"t":3945,"p":0.646,"s":"n"},{"t":3952,"p":0.62,"s":"n"},{"t":3959,"p":0.601,"s":"n"},
{"t":3966,"p":0.644,"s":"n"},{"t":3973,"p":0.617,"s":"n"},{"t":3980,"p":0.63,"s":"n"},{"t":3987,"p":0.608,"s":"n"},{"t":3994,"p":0.653,"s":"n"},{"t":4001,"p":0.622,"s":"n"},{"t":4008,"p":0.594,"s":"n"},{"t":4015,"p":0.635,"s":"n"},{"t":4022,"p":0.612,"s":"n"},{"t":4029,"p":0.628,"s":"n"},
{"t":4036,"p":0.603,"s":"n"},{"t":4043,"p":0.639,"s":"n"},{"t":4050,"p":0.616,"s":"n"},{"t":4057,"p":0.645,"s":"n"},{"t":4064,"p":0.599,"s":"n"},{"t":4071,"p":0.631,"s":"n"},{"t":4078,"p":0.624,"s":"n"},{"t":4085,"p":0.65,"s":"n"},{"t":4092,"p":0.606,"s":"n"},{"t":4099,"p":0.618,"s":"n"},
{"t":4106,"p":0.636,"s":"n"},{"t":4113,"p":0.592,"s":"n"},{"t":4120,"p":0.627,"s":"n"},{"t":4127,"p":0.613,"s":"n"},{"t":4134,"p":0.641,"s":"n"},{"t":4141,"p":0.62,"s":"n"},{"t":4148,"p":0.647,"s":"n"},{"t":4155,"p":0.604,"s":"n"},{"t":4162,"p":0.632,"s":"n"},{"t":4169,"p":0.61,"s":"n"},
{"t":4176,"p":0.621,"s":"n"},{"t":4183,"p":0.654,"s":"n"},{"t":4190,"p":0.601,"s":"n"},{"t":4197,"p":0.637,"s":"n"},{"t":4204,"p":0.615,"s":"n"},{"t":4211,"p":0.628,"s":"n"},{"t":4218,"p":0.589,"s":"n"},{"t":4225,"p":0.643,"s":"n"},{"t":4232,"p":0.623,"s":"n"},{"t":4239,"p":0.635,"s":"n"},
{"t":4246,"p":0.607,"s":"n"},{"t":4253,"p":0.626,"s":"n"},{"t":4260,"p":0.645,"s":"n"},{"t":4267,"p":0.618,"s":"n"},{"t":4274,"p":0.595,"s":"n"},{"t":4281,"p":0.638,"s":"n"},{"t":4288,"p":0.612,"s":"n"},{"t":4295,"p":0.63,"s":"n"},{"t":4302,"p":0.652,"s":"n"},{"t":4309,"p":0.614,"s":"n"},
{"t":4316,"p":0.629,"s":"n"},{"t":4323,"p":0.604,"s":"n"},{"t":4330,"p":0.639,"s":"n"},{"t":4337,"p":0.622,"s":"n"},{"t":4344,"p":0.648,"s":"n"},{"t":4351,"p":0.609,"s":"n"},{"t":4358,"p":0.633,"s":"n"},{"t":4365,"p":0.597,"s":"n"},{"t":4372,"p":0.625,"s":"n"},{"t":4379,"p":0.642,"s":"n"},
{"t":4386,"p":0.615,"s":"n"},{"t":4393,"p":0.636,"s":"n"},{"t":4400,"p":0.6,"s":"n"},{"t":4407,"p":0.646,"s":"n"},{"t":4414,"p":0.619,"s":"n"},{"t":4421,"p":0.627,"s":"n"},{"t":4428,"p":0.656,"s":"n"},{"t":4435,"p":0.611,"s":"n"},{"t":4442,"p":0.634,"s":"n"},{"t":4449,"p":0.593,"s":"n"},
{"t":4456,"p":0.64,"s":"n"},{"t":4463,"p":0.621,"s":"n"},{"t":4470,"p":0.608,"s":"n"},{"t":4477,"p":0.63,"s":"n"},{"t":4484,"p":0.643,"s":"n"},{"t":4491,"p":0.598,"s":"n"},{"t":4498,"p":0.624,"s":"n"},{"t":4505,"p":0.65,"s":"n"},{"t":4512,"p":0.613,"s":"n"},{"t":4519,"p":0.628,"s":"n"},
{"t":4526,"p":0.602,"s":"n"},{"t":4533,"p":0.637,"s":"n"},{"t":4540,"p":0.62,"s":"n"},{"t":4547,"p":0.591,"s":"n"},{"t":4554,"p":0.645,"s":"n"},{"t":4561,"p":0.616,"s":"n"},{"t":4568,"p":0.632,"s":"n"},{"t":4575,"p":0.606,"s":"n"},{"t":4582,"p":0.641,"s":"n"},{"t":4589,"p":0.623,"s":"n"},
{"t":4596,"p":0.631,"s":"n"},{"t":4603,"p":0.61,"s":"n"},{"t":4610,"p":0.653,"s":"n"},{"t":4617,"p":0.625,"s":"n"},{"t":4624,"p":0.603,"s":"n"},{"t":4631,"p":0.638,"s":"n"},{"t":4638,"p":0.614,"s":"n"},{"t":4645,"p":0.646,"s":"n"},{"t":4652,"p":0.599,"s":"n"},{"t":4659,"p":0.627,"s":"n"},
{"t":4666,"p":0.618,"s":"n"},{"t":4673,"p":0.644,"s":"n"},{"t":4680,"p":0.606,"s":"n"},{"t":4687,"p":0.633,"s":"n"},{"t":4694,"p":0.621,"s":"n"},{"t":4701,"p":0.652,"s":"n"},{"t":4708,"p":0.596,"s":"n"},{"t":4715,"p":0.629,"s":"n"},{"t":4722,"p":0.612,"s":"n"},{"t":4729,"p":0.64,"s":"n"},
{"t":4736,"p":0.635,"s":"n"},{"t":4743,"p":0.598,"s":"n"},{"t":4750,"p":0.625,"s":"n"},{"t":4757,"p":0.647,"s":"n"},{"t":4764,"p":0.609,"s":"n"},{"t":4771,"p":0.622,"s":"n"},{"t":4778,"p":0.639,"s":"n"},{"t":4785,"p":0.615,"s":"n"},{"t":4792,"p":0.654,"s":"n"},{"t":4799,"p":0.601,"s":"n"},
{"t":4806,"p":0.624,"s":"n"},{"t":4813,"p":0.642,"s":"n"},{"t":4820,"p":0.611,"s":"n"},{"t":4827,"p":0.628,"s":"n"},{"t":4834,"p":0.595,"s":"n"},{"t":4841,"p":0.636,"s":"n"},{"t":4848,"p":0.617,"s":"n"},{"t":4855,"p":0.649,"s":"n"},{"t":4862,"p":0.605,"s":"n"},{"t":4869,"p":0.632,"s":"n"},
{"t":4876,"p":0.613,"s":"n"},{"t":4883,"p":0.63,"s":"n"},{"t":4890,"p":0.645,"s":"n"},{"t":4897,"p":0.603,"s":"n"},{"t":4904,"p":0.637,"s":"n"},{"t":4911,"p":0.62,"s":"n"},{"t":4918,"p":0.59,"s":"n"},{"t":4925,"p":0.643,"s":"n"},{"t":4932,"p":0.626,"s":"n"},{"t":4939,"p":0.61,"s":"n"},
{"t":4946,"p":0.638,"s":"n"},{"t":4953,"p":0.616,"s":"n"},{"t":4960,"p":0.629,"s":"n"},{"t":4967,"p":0.651,"s":"n"},{"t":4974,"p":0.607,"s":"n"},{"t":4981,"p":0.634,"s":"n"},{"t":4988,"p":0.621,"s":"n"},{"t":4995,"p":0.645,"s":"n"},
{"t":1290,"p":0.776,"s":"n"},{"t":3888,"p":0.704,"s":"n"},{"t":1385,"p":0.69,"s":"n"},{"t":2205,"p":0.7,"s":"n"},{"t":2930,"p":0.695,"s":"n"},{"t":3010,"p":0.7,"s":"n"},{"t":4620,"p":0.688,"s":"n"},
{"t":0,"p":0.831,"s":"c"},{"t":5,"p":0.852,"s":"c"},{"t":10,"p":0.819,"s":"c"},{"t":15,"p":0.846,"s":"c"},{"t":20,"p":0.862,"s":"c"},{"t":25,"p":0.838,"s":"c"},{"t":30,"p":0.824,"s":"c"},{"t":35,"p":0.857,"s":"c"},{"t":40,"p":0.843,"s":"c"},{"t":45,"p":0.812,"s":"c"},
{"t":50,"p":0.849,"s":"c"},{"t":55,"p":0.868,"s":"c"},{"t":60,"p":0.835,"s":"c"},{"t":65,"p":0.821,"s":"c"},{"t":70,"p":0.855,"s":"c"},{"t":75,"p":0.841,"s":"c"},{"t":80,"p":0.797,"s":"c"},{"t":85,"p":0.859,"s":"c"},{"t":90,"p":0.833,"s":"c"},{"t":95,"p":0.847,"s":"c"},
{"t":100,"p":0.826,"s":"c"},{"t":105,"p":0.864,"s":"c"},{"t":110,"p":0.839,"s":"c"},{"t":115,"p":0.816,"s":"c"},{"t":120,"p":0.851,"s":"c"},{"t":125,"p":0.873,"s":"c"},{"t":130,"p":0.829,"s":"c"},{"t":135,"p":0.844,"s":"c"},{"t":140,"p":0.858,"s":"c"},{"t":145,"p":0.822,"s":"c"},
{"t":150,"p":0.836,"s":"c"},{"t":155,"p":0.853,"s":"c"},{"t":160,"p":0.811,"s":"c"},{"t":165,"p":0.848,"s":"c"},{"t":170,"p":0.866,"s":"c"},{"t":175,"p":0.83,"s":"c"},{"t":180,"p":0.842,"s":"c"},{"t":185,"p":0.802,"s":"c"},{"t":190,"p":0.856,"s":"c"},{"t":195,"p":0.837,"s":"c"},
{"t":200,"p":0.825,"s":"c"},{"t":205,"p":0.861,"s":"c"},{"t":210,"p":0.845,"s":"c"},{"t":215,"p":0.818,"s":"c"},{"t":220,"p":0.852,"s":"c"},{"t":225,"p":0.834,"s":"c"},{"t":230,"p":0.871,"s":"c"},{"t":235,"p":0.828,"s":"c"},{"t":240,"p":0.849,"s":"c"},{"t":245,"p":0.84,"s":"c"},
{"t":250,"p":0.815,"s":"c"},{"t":255,"p":0.858,"s":"c"},{"t":260,"p":0.836,"s":"c"},{"t":265,"p":0.879,"s":"c"},{"t":270,"p":0.823,"s":"c"},{"t":275,"p":0.846,"s":"c"},{"t":280,"p":0.832,"s":"c"},{"t":285,"p":0.863,"s":"c"},{"t":290,"p":0.808,"s":"c"},{"t":295,"p":0.85,"s":"c"},
{"t":300,"p":0.839,"s":"c"},{"t":305,"p":0.827,"s":"c"},{"t":310,"p":0.855,"s":"c"},{"t":315,"p":0.844,"s":"c"},{"t":320,"p":0.82,"s":"c"},{"t":325,"p":0.867,"s":"c"},{"t":330,"p":0.835,"s":"c"},{"t":335,"p":0.851,"s":"c"},{"t":340,"p":0.814,"s":"c"},{"t":345,"p":0.843,"s":"c"},
{"t":350,"p":0.859,"s":"c"},{"t":355,"p":0.831,"s":"c"},{"t":360,"p":0.847,"s":"c"},{"t":365,"p":0.824,"s":"c"},{"t":370,"p":0.86,"s":"c"},{"t":375,"p":0.838,"s":"c"},{"t":380,"p":0.806,"s":"c"},{"t":385,"p":0.854,"s":"c"},{"t":390,"p":0.842,"s":"c"},{"t":395,"p":0.828,"s":"c"},
{"t":400,"p":0.865,"s":"c"},{"t":405,"p":0.817,"s":"c"},{"t":410,"p":0.849,"s":"c"},{"t":415,"p":0.836,"s":"c"},{"t":420,"p":0.853,"s":"c"},{"t":425,"p":0.829,"s":"c"},{"t":430,"p":0.874,"s":"c"},{"t":435,"p":0.841,"s":"c"},{"t":440,"p":0.822,"s":"c"},{"t":445,"p":0.857,"s":"c"},
{"t":450,"p":0.834,"s":"c"},{"t":455,"p":0.846,"s":"c"},{"t":460,"p":0.812,"s":"c"},{"t":465,"p":0.862,"s":"c"},{"t":470,"p":0.839,"s":"c"},{"t":475,"p":0.826,"s":"c"},{"t":480,"p":0.851,"s":"c"},{"t":485,"p":0.843,"s":"c"},{"t":490,"p":0.795,"s":"c"},{"t":495,"p":0.858,"s":"c"},
{"t":500,"p":0.832,"s":"c"},{"t":505,"p":0.848,"s":"c"},{"t":510,"p":0.87,"s":"c"},{"t":515,"p":0.819,"s":"c"},{"t":520,"p":0.845,"s":"c"},{"t":525,"p":0.837,"s":"c"},{"t":530,"p":0.856,"s":"c"},{"t":535,"p":0.825,"s":"c"},{"t":540,"p":0.861,"s":"c"},{"t":545,"p":0.84,"s":"c"},
{"t":550,"p":0.813,"s":"c"},{"t":555,"p":0.852,"s":"c"},{"t":560,"p":0.835,"s":"c"},{"t":565,"p":0.866,"s":"c"},{"t":570,"p":0.828,"s":"c"},{"t":575,"p":0.847,"s":"c"},{"t":580,"p":0.842,"s":"c"},{"t":585,"p":0.821,"s":"c"},{"t":590,"p":0.859,"s":"c"},{"t":595,"p":0.833,"s":"c"},
{"t":600,"p":0.849,"s":"c"},{"t":605,"p":0.818,"s":"c"},{"t":610,"p":0.857,"s":"c"},{"t":615,"p":0.838,"s":"c"},{"t":620,"p":0.826,"s":"c"},{"t":625,"p":0.869,"s":"c"},{"t":630,"p":0.844,"s":"c"},{"t":635,"p":0.831,"s":"c"},{"t":640,"p":0.853,"s":"c"},{"t":645,"p":0.809,"s":"c"},
{"t":650,"p":0.845,"s":"c"},{"t":655,"p":0.863,"s":"c"},{"t":660,"p":0.827,"s":"c"},{"t":665,"p":0.85,"s":"c"},{"t":670,"p":0.836,"s":"c"},{"t":675,"p":0.816,"s":"c"},{"t":680,"p":0.858,"s":"c"},{"t":685,"p":0.841,"s":"c"},{"t":690,"p":0.876,"s":"c"},{"t":695,"p":0.823,"s":"c"},
{"t":700,"p":0.839,"s":"c"},{"t":705,"p":0.854,"s":"c"},{"t":710,"p":0.781,"s":"c"},{"t":715,"p":0.846,"s":"c"},{"t":720,"p":0.83,"s":"c"},{"t":725,"p":0.861,"s":"c"},{"t":730,"p":0.837,"s":"c"},{"t":735,"p":0.82,"s":"c"},{"t":740,"p":0.852,"s":"c"},{"t":745,"p":0.843,"s":"c"},
{"t":750,"p":0.828,"s":"c"},{"t":755,"p":0.867,"s":"c"},{"t":760,"p":0.834,"s":"c"},{"t":765,"p":0.849,"s":"c"},{"t":770,"p":0.815,"s":"c"},{"t":775,"p":0.856,"s":"c"},{"t":780,"p":0.84,"s":"c"},{"t":785,"p":0.825,"s":"c"},{"t":790,"p":0.862,"s":"c"},{"t":795,"p":0.847,"s":"c"},
{"t":800,"p":0.831,"s":"c"},{"t":805,"p":0.818,"s":"c"},{"t":810,"p":0.853,"s":"c"},{"t":815,"p":0.838,"s":"c"},{"t":820,"p":0.87,"s":"c"},{"t":825,"p":0.826,"s":"c"},{"t":830,"p":0.844,"s":"c"},{"t":835,"p":0.859,"s":"c"},{"t":840,"p":0.835,"s":"c"},{"t":845,"p":0.81,"s":"c"},
{"t":850,"p":0.851,"s":"c"},{"t":855,"p":0.842,"s":"c"},{"t":860,"p":0.822,"s":"c"},{"t":865,"p":0.865,"s":"c"},{"t":870,"p":0.833,"s":"c"},{"t":875,"p":0.848,"s":"c"},{"t":880,"p":0.829,"s":"c"},{"t":885,"p":0.857,"s":"c"},{"t":890,"p":0.839,"s":"c"},{"t":895,"p":0.817,"s":"c"},
{"t":900,"p":0.86,"s":"c"},{"t":905,"p":0.834,"s":"c"},{"t":910,"p":0.846,"s":"c"},{"t":915,"p":0.824,"s":"c"},{"t":920,"p":0.883,"s":"c"},{"t":925,"p":0.841,"s":"c"},{"t":930,"p":0.814,"s":"c"},{"t":935,"p":0.855,"s":"c"},{"t":940,"p":0.837,"s":"c"},{"t":945,"p":0.85,"s":"c"},
{"t":950,"p":0.827,"s":"c"},{"t":955,"p":0.864,"s":"c"},{"t":960,"p":0.843,"s":"c"},{"t":965,"p":0.819,"s":"c"},{"t":970,"p":0.852,"s":"c"},{"t":975,"p":0.836,"s":"c"},{"t":980,"p":0.868,"s":"c"},{"t":985,"p":0.83,"s":"c"},{"t":990,"p":0.845,"s":"c"},{"t":995,"p":0.803,"s":"c"},
{"t":1000,"p":0.858,"s":"c"},{"t":1005,"p":0.838,"s":"c"},{"t":1010,"p":0.823,"s":"c"},{"t":1015,"p":0.849,"s":"c"},{"t":1020,"p":0.866,"s":"c"},{"t":1025,"p":0.834,"s":"c"},{"t":1030,"p":0.842,"s":"c"},{"t":1035,"p":0.813,"s":"c"},{"t":1040,"p":0.856,"s":"c"},{"t":1045,"p":0.829,"s":"c"},
{"t":1050,"p":0.847,"s":"c"},{"t":1055,"p":0.871,"s":"c"},{"t":1060,"p":0.835,"s":"c"},{"t":1065,"p":0.82,"s":"c"},{"t":1070,"p":0.853,"s":"c"},{"t":1075,"p":0.84,"s":"c"},{"t":1080,"p":0.861,"s":"c"},{"t":1085,"p":0.826,"s":"c"},{"t":1090,"p":0.844,"s":"c"},{"t":1095,"p":0.832,"s":"c"},
{"t":1100,"p":0.815,"s":"c"},{"t":1105,"p":0.857,"s":"c"},{"t":1110,"p":0.839,"s":"c"},{"t":1115,"p":0.869,"s":"c"},{"t":1120,"p":0.824,"s":"c"},{"t":1125,"p":0.848,"s":"c"},{"t":1130,"p":0.836,"s":"c"},{"t":1135,"p":0.854,"s":"c"},{"t":1140,"p":0.799,"s":"c"},{"t":1145,"p":0.843,"s":"c"},
{"t":1150,"p":0.862,"s":"c"},{"t":1155,"p":0.828,"s":"c"},{"t":1160,"p":0.851,"s":"c"},{"t":1165,"p":0.837,"s":"c"},{"t":1170,"p":0.818,"s":"c"},{"t":1175,"p":0.873,"s":"c"},{"t":1180,"p":0.845,"s":"c"},{"t":1185,"p":0.831,"s":"c"},{"t":1190,"p":0.857,"s":"c"},{"t":1195,"p":0.84,"s":"c"},
{"t":1200,"p":0.823,"s":"c"},{"t":1205,"p":0.865,"s":"c"},{"t":1210,"p":0.846,"s":"c"},{"t":1215,"p":0.834,"s":"c"},{"t":1220,"p":0.812,"s":"c"},{"t":1225,"p":0.859,"s":"c"},{"t":1230,"p":0.842,"s":"c"},{"t":1235,"p":0.827,"s":"c"},{"t":1240,"p":0.852,"s":"c"},{"t":1245,"p":0.838,"s":"c"},
{"t":1250,"p":0.868,"s":"c"},{"t":1255,"p":0.821,"s":"c"},{"t":1260,"p":0.849,"s":"c"},{"t":1265,"p":0.835,"s":"c"},{"t":1270,"p":0.856,"s":"c"},{"t":1275,"p":0.776,"s":"c"},{"t":1280,"p":0.843,"s":"c"},{"t":1285,"p":0.862,"s":"c"},{"t":1290,"p":0.83,"s":"c"},{"t":1295,"p":0.847,"s":"c"},
{"t":1300,"p":0.839,"s":"c"},
{"t":2,"p":0.845,"s":"c"},{"t":7,"p":0.829,"s":"c"},{"t":12,"p":0.858,"s":"c"},{"t":17,"p":0.838,"s":"c"},{"t":22,"p":0.821,"s":"c"},{"t":27,"p":0.851,"s":"c"},{"t":32,"p":0.843,"s":"c"},{"t":37,"p":0.834,"s":"c"},{"t":42,"p":0.862,"s":"c"},{"t":47,"p":0.826,"s":"c"},
{"t":52,"p":0.84,"s":"c"},{"t":57,"p":0.855,"s":"c"},{"t":62,"p":0.831,"s":"c"},{"t":67,"p":0.848,"s":"c"},{"t":72,"p":0.864,"s":"c"},{"t":77,"p":0.836,"s":"c"},{"t":82,"p":0.823,"s":"c"},{"t":87,"p":0.852,"s":"c"},{"t":92,"p":0.844,"s":"c"},{"t":97,"p":0.833,"s":"c"},
{"t":102,"p":0.857,"s":"c"},{"t":107,"p":0.828,"s":"c"},{"t":112,"p":0.846,"s":"c"},{"t":117,"p":0.839,"s":"c"},{"t":122,"p":0.866,"s":"c"},{"t":127,"p":0.822,"s":"c"},{"t":132,"p":0.85,"s":"c"},{"t":137,"p":0.837,"s":"c"},{"t":142,"p":0.843,"s":"c"},{"t":147,"p":0.86,"s":"c"},
{"t":152,"p":0.832,"s":"c"},{"t":157,"p":0.849,"s":"c"},{"t":162,"p":0.825,"s":"c"},{"t":167,"p":0.856,"s":"c"},{"t":172,"p":0.841,"s":"c"},{"t":177,"p":0.834,"s":"c"},{"t":182,"p":0.863,"s":"c"},{"t":187,"p":0.827,"s":"c"},{"t":192,"p":0.847,"s":"c"},{"t":197,"p":0.838,"s":"c"},
{"t":202,"p":0.853,"s":"c"},{"t":207,"p":0.842,"s":"c"},{"t":212,"p":0.83,"s":"c"},{"t":217,"p":0.859,"s":"c"},{"t":222,"p":0.824,"s":"c"},{"t":227,"p":0.845,"s":"c"},{"t":232,"p":0.836,"s":"c"},{"t":237,"p":0.851,"s":"c"},{"t":242,"p":0.868,"s":"c"},{"t":247,"p":0.829,"s":"c"},
{"t":252,"p":0.84,"s":"c"},{"t":257,"p":0.826,"s":"c"},{"t":262,"p":0.855,"s":"c"},{"t":267,"p":0.843,"s":"c"},{"t":272,"p":0.833,"s":"c"},{"t":277,"p":0.861,"s":"c"},{"t":282,"p":0.848,"s":"c"},{"t":287,"p":0.821,"s":"c"},{"t":292,"p":0.837,"s":"c"},{"t":297,"p":0.852,"s":"c"},
{"t":302,"p":0.835,"s":"c"},{"t":307,"p":0.858,"s":"c"},{"t":312,"p":0.844,"s":"c"},{"t":317,"p":0.827,"s":"c"},{"t":322,"p":0.85,"s":"c"},{"t":327,"p":0.839,"s":"c"},{"t":332,"p":0.864,"s":"c"},{"t":337,"p":0.831,"s":"c"},{"t":342,"p":0.846,"s":"c"},{"t":347,"p":0.824,"s":"c"},
{"t":352,"p":0.857,"s":"c"},{"t":357,"p":0.836,"s":"c"},{"t":362,"p":0.823,"s":"c"},{"t":367,"p":0.849,"s":"c"},{"t":372,"p":0.842,"s":"c"},{"t":377,"p":0.867,"s":"c"},{"t":382,"p":0.828,"s":"c"},{"t":387,"p":0.853,"s":"c"},{"t":392,"p":0.834,"s":"c"},{"t":397,"p":0.845,"s":"c"},
{"t":402,"p":0.829,"s":"c"},{"t":407,"p":0.854,"s":"c"},{"t":412,"p":0.84,"s":"c"},{"t":417,"p":0.86,"s":"c"},{"t":422,"p":0.825,"s":"c"},{"t":427,"p":0.847,"s":"c"},{"t":432,"p":0.838,"s":"c"},{"t":437,"p":0.832,"s":"c"},{"t":442,"p":0.856,"s":"c"},{"t":447,"p":0.843,"s":"c"},
{"t":452,"p":0.862,"s":"c"},{"t":457,"p":0.83,"s":"c"},{"t":462,"p":0.848,"s":"c"},{"t":467,"p":0.837,"s":"c"},{"t":472,"p":0.82,"s":"c"},{"t":477,"p":0.852,"s":"c"},{"t":482,"p":0.844,"s":"c"},{"t":487,"p":0.865,"s":"c"},{"t":492,"p":0.833,"s":"c"},{"t":497,"p":0.841,"s":"c"},
{"t":502,"p":0.826,"s":"c"},{"t":507,"p":0.85,"s":"c"},{"t":512,"p":0.859,"s":"c"},{"t":517,"p":0.835,"s":"c"},{"t":522,"p":0.846,"s":"c"},{"t":527,"p":0.828,"s":"c"},{"t":532,"p":0.855,"s":"c"},{"t":537,"p":0.839,"s":"c"},{"t":542,"p":0.822,"s":"c"},{"t":547,"p":0.849,"s":"c"},
{"t":552,"p":0.843,"s":"c"},{"t":557,"p":0.863,"s":"c"},{"t":562,"p":0.831,"s":"c"},{"t":567,"p":0.852,"s":"c"},{"t":572,"p":0.838,"s":"c"},{"t":577,"p":0.847,"s":"c"},{"t":582,"p":0.824,"s":"c"},{"t":587,"p":0.858,"s":"c"},{"t":592,"p":0.836,"s":"c"},{"t":597,"p":0.854,"s":"c"},
{"t":602,"p":0.832,"s":"c"},{"t":607,"p":0.845,"s":"c"},{"t":612,"p":0.866,"s":"c"},{"t":617,"p":0.827,"s":"c"},{"t":622,"p":0.851,"s":"c"},{"t":627,"p":0.84,"s":"c"},{"t":632,"p":0.834,"s":"c"},{"t":637,"p":0.86,"s":"c"},{"t":642,"p":0.823,"s":"c"},{"t":647,"p":0.848,"s":"c"},
{"t":652,"p":0.856,"s":"c"},{"t":657,"p":0.837,"s":"c"},{"t":662,"p":0.842,"s":"c"},{"t":667,"p":0.83,"s":"c"},{"t":672,"p":0.862,"s":"c"},{"t":677,"p":0.825,"s":"c"},{"t":682,"p":0.85,"s":"c"},{"t":687,"p":0.844,"s":"c"},{"t":692,"p":0.835,"s":"c"},{"t":697,"p":0.859,"s":"c"},
{"t":702,"p":0.828,"s":"c"},{"t":707,"p":0.853,"s":"c"},{"t":712,"p":0.839,"s":"c"},{"t":717,"p":0.868,"s":"c"},{"t":722,"p":0.833,"s":"c"},{"t":727,"p":0.846,"s":"c"},{"t":732,"p":0.821,"s":"c"},{"t":737,"p":0.855,"s":"c"},{"t":742,"p":0.841,"s":"c"},{"t":747,"p":0.836,"s":"c"},
{"t":752,"p":0.849,"s":"c"},{"t":757,"p":0.826,"s":"c"},{"t":762,"p":0.857,"s":"c"},{"t":767,"p":0.843,"s":"c"},{"t":772,"p":0.831,"s":"c"},{"t":777,"p":0.864,"s":"c"},{"t":782,"p":0.838,"s":"c"},{"t":787,"p":0.852,"s":"c"},{"t":792,"p":0.827,"s":"c"},{"t":797,"p":0.845,"s":"c"},
{"t":802,"p":0.861,"s":"c"},{"t":807,"p":0.834,"s":"c"},{"t":812,"p":0.847,"s":"c"},{"t":817,"p":0.822,"s":"c"},{"t":822,"p":0.854,"s":"c"},{"t":827,"p":0.84,"s":"c"},{"t":832,"p":0.858,"s":"c"},{"t":837,"p":0.829,"s":"c"},{"t":842,"p":0.844,"s":"c"},{"t":847,"p":0.837,"s":"c"},
{"t":852,"p":0.832,"s":"c"},{"t":857,"p":0.86,"s":"c"},{"t":862,"p":0.841,"s":"c"},{"t":867,"p":0.85,"s":"c"},{"t":872,"p":0.825,"s":"c"},{"t":877,"p":0.846,"s":"c"},{"t":882,"p":0.867,"s":"c"},{"t":887,"p":0.835,"s":"c"},{"t":892,"p":0.853,"s":"c"},{"t":897,"p":0.83,"s":"c"},
{"t":902,"p":0.848,"s":"c"},{"t":907,"p":0.839,"s":"c"},{"t":912,"p":0.824,"s":"c"},{"t":917,"p":0.856,"s":"c"},{"t":922,"p":0.843,"s":"c"},{"t":927,"p":0.833,"s":"c"},{"t":932,"p":0.851,"s":"c"},{"t":937,"p":0.862,"s":"c"},{"t":942,"p":0.828,"s":"c"},{"t":947,"p":0.845,"s":"c"},
{"t":952,"p":0.836,"s":"c"},{"t":957,"p":0.855,"s":"c"},{"t":962,"p":0.842,"s":"c"},{"t":967,"p":0.827,"s":"c"},{"t":972,"p":0.859,"s":"c"},{"t":977,"p":0.838,"s":"c"},{"t":982,"p":0.823,"s":"c"},{"t":987,"p":0.849,"s":"c"},{"t":992,"p":0.844,"s":"c"},{"t":997,"p":0.865,"s":"c"},
{"t":1002,"p":0.83,"s":"c"},{"t":1007,"p":0.847,"s":"c"},{"t":1012,"p":0.857,"s":"c"},{"t":1017,"p":0.834,"s":"c"},{"t":1022,"p":0.841,"s":"c"},{"t":1027,"p":0.863,"s":"c"},{"t":1032,"p":0.826,"s":"c"},{"t":1037,"p":0.852,"s":"c"},{"t":1042,"p":0.839,"s":"c"},{"t":1047,"p":0.848,"s":"c"},
{"t":1052,"p":0.854,"s":"c"},{"t":1057,"p":0.823,"s":"c"},{"t":1062,"p":0.845,"s":"c"},{"t":1067,"p":0.836,"s":"c"},{"t":1072,"p":0.86,"s":"c"},{"t":1077,"p":0.831,"s":"c"},{"t":1082,"p":0.85,"s":"c"},{"t":1087,"p":0.842,"s":"c"},{"t":1092,"p":0.866,"s":"c"},{"t":1097,"p":0.835,"s":"c"},
{"t":1102,"p":0.843,"s":"c"},{"t":1107,"p":0.858,"s":"c"},{"t":1112,"p":0.829,"s":"c"},{"t":1117,"p":0.851,"s":"c"},{"t":1122,"p":0.837,"s":"c"},{"t":1127,"p":0.846,"s":"c"},{"t":1132,"p":0.825,"s":"c"},{"t":1137,"p":0.856,"s":"c"},{"t":1142,"p":0.84,"s":"c"},{"t":1147,"p":0.833,"s":"c"},
{"t":1152,"p":0.862,"s":"c"},{"t":1157,"p":0.838,"s":"c"},{"t":1162,"p":0.849,"s":"c"},{"t":1167,"p":0.827,"s":"c"},{"t":1172,"p":0.853,"s":"c"},{"t":1177,"p":0.844,"s":"c"},{"t":1182,"p":0.832,"s":"c"},{"t":1187,"p":0.859,"s":"c"},{"t":1192,"p":0.847,"s":"c"},{"t":1197,"p":0.822,"s":"c"},
{"t":1202,"p":0.839,"s":"c"},{"t":1207,"p":0.855,"s":"c"},{"t":1212,"p":0.834,"s":"c"},{"t":1217,"p":0.864,"s":"c"},{"t":1222,"p":0.828,"s":"c"},{"t":1227,"p":0.85,"s":"c"},{"t":1232,"p":0.842,"s":"c"},{"t":1237,"p":0.836,"s":"c"},{"t":1242,"p":0.857,"s":"c"},{"t":1247,"p":0.845,"s":"c"},
{"t":1252,"p":0.831,"s":"c"},{"t":1257,"p":0.848,"s":"c"},{"t":1262,"p":0.86,"s":"c"},{"t":1267,"p":0.837,"s":"c"},{"t":1272,"p":0.826,"s":"c"},{"t":1277,"p":0.853,"s":"c"},{"t":1282,"p":0.841,"s":"c"},{"t":1287,"p":0.869,"s":"c"},{"t":1292,"p":0.835,"s":"c"},{"t":1297,"p":0.846,"s":"c"},
{"t":0,"p":0,"s":"c"},{"t":0,"p":0.6,"s":"c"},{"t":1296,"p":0.66,"s":"c"},{"t":1298,"p":0.614,"s":"c"},{"t":1803,"p":0.646,"s":"c"},{"t":3263,"p":0.699,"s":"c"},{"t":3888,"p":0.725,"s":"c"},{"t":3888,"p":0.71,"s":"c"},{"t":3888,"p":0.694,"s":"c"}
]},
"mark": {"type": "point", "filled": true, "size": 19, "opacity": 1, "strokeWidth": 0},
"encoding": {
"x": {"field": "t", "type": "quantitative", "scale": {"domain": [0, 5000], "nice": false, "zero": false},
"axis": {"values": [0, 1000, 2000, 3000, 4000, 5000], "format": "d", "grid": false,
"tickSize": -4, "tickColor": "#1a1a1a", "tickWidth": 1.2, "domainColor": "#1a1a1a", "domainWidth": 1.5,
"labelFontSize": 11, "labelColor": "#111", "labelPadding": 12, "labelFlush": false,
"title": "MC\u00a0 step", "titleFont": "Times New Roman", "titleFontSize": 25, "titleFontWeight": "normal", "titleColor": "#111",
"titleBaseline": "alphabetic", "titleY": 42, "titleX": 232}},
"y": {"field": "p", "type": "quantitative", "scale": {"domain": [0, 1], "nice": false},
"axis": {"values": [0, 0.2, 0.4, 0.6, 0.8, 1], "labelExpr": "datum.value == 0 ? '0' : format(datum.value, '.1f')", "grid": false,
"tickSize": 5, "tickColor": "#1a1a1a", "tickWidth": 1.2, "domainColor": "#1a1a1a", "domainWidth": 1.5,
"labelFontSize": 11, "labelColor": "#111", "labelPadding": 2, "labelFlush": false,
"title": "p", "titleFont": "Times New Roman", "titleFontSize": 27, "titleFontStyle": "italic", "titleFontWeight": "normal", "titleColor": "#111",
"titleAngle": 270, "titleBaseline": "alphabetic", "titleAlign": "center", "titleX": -42, "titleY": 168}},
"color": {"field": "s", "type": "nominal",
"scale": {"domain": ["n", "c"], "range": ["#0000ff", "#ff0000"]},
"legend": {"orient": "none", "legendX": 37, "legendY": 234, "title": null, "padding": 0,
"labelExpr": "datum.label == 'n' ? 'nonconductive\u00a0 state' : 'conductive\u00a0 state'",
"labelFont": "Times New Roman", "labelFontSize": 22, "labelColor": "#111", "labelOffset": 0, "labelLimit": 400, "rowPadding": 12,
"symbolType": "circle", "symbolSize": 40, "symbolStrokeWidth": 0}}
}
}
